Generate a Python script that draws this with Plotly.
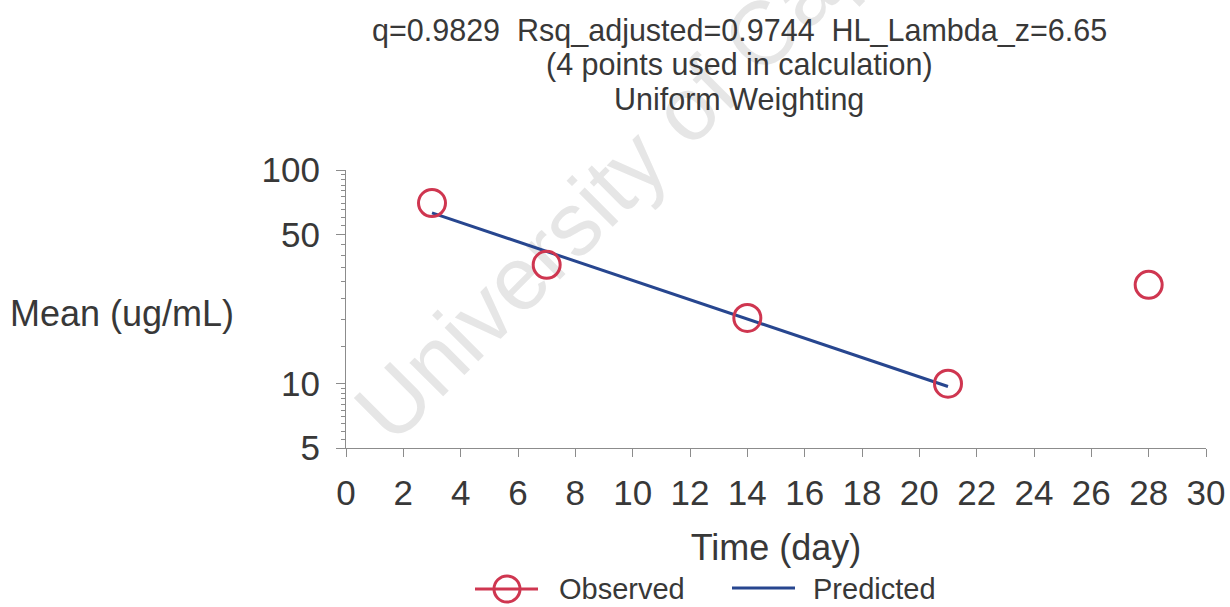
import plotly.graph_objects as go

# Observed mean concentrations
time_obs = [3, 7, 14, 21, 28]
conc_obs = [70.0, 36.0, 20.3, 10.0, 29.0]

# Terminal-phase regression (points used in the fit)
time_pred = [3, 7, 14, 21]
conc_pred = [63.0, 41.6, 20.1, 9.7]

x_ticks = list(range(0, 31, 2))
y_ticks = [5, 10, 50, 100]
y_tick_text = ["5", "10", "50", "100"]
y_minor = [5.5, 6, 6.5, 7, 7.5, 8, 8.5, 9, 9.5,
           15, 20, 25, 30, 35, 40, 45,
           55, 60, 65, 70, 75, 80, 85, 90, 95]

title_lines = [
    "q=0.9829  Rsq_adjusted=0.9744  HL_Lambda_z=6.65",
    "(4 points used in calculation)",
    "Uniform Weighting",
]

RED = "#cf3650"
BLUE = "#27468f"
AXIS = "#8c8c8c"
TEXT = "#383838"
FONT = "Liberation Sans, Arial, sans-serif"

fig = go.Figure()

fig.add_trace(go.Scatter(
    x=time_pred, y=conc_pred, mode="lines", name="Predicted",
    line=dict(color=BLUE, width=3), showlegend=False,
))
fig.add_trace(go.Scatter(
    x=time_obs, y=conc_obs, mode="markers", name="Observed", showlegend=False,
    marker=dict(symbol="circle-open", size=27, color=RED, line=dict(width=3, color=RED)),
))

L, R, T, B = 346, 24, 170, 159
W, H = 1230, 607
PW, PH = W - L - R, H - T - B


def px(xp):
    return (xp - L) / PW


def py(yp):
    return (H - B - yp) / PH


annotations = []
for text, ypix in zip(title_lines, [30, 65, 99]):
    annotations.append(dict(
        text=text, xref="paper", yref="paper", x=px(739), y=py(ypix),
        xanchor="center", yanchor="middle", showarrow=False,
        font=dict(size=30.5, color=TEXT, family=FONT),
    ))
annotations.append(dict(
    text="Mean (ug/mL)", xref="paper", yref="paper", x=px(8), y=py(313),
    xanchor="left", yanchor="middle", showarrow=False,
    font=dict(size=36, color=TEXT, family=FONT),
))

# watermark, kept beneath the data
shapes = [dict(
    type="rect", xref="paper", yref="paper", layer="below",
    x0=px(657), x1=px(757), y0=py(26), y1=py(126),
    line=dict(width=0), fillcolor="rgba(0,0,0,0)",
    label=dict(text="University of Cape Town", textangle=-45,
               font=dict(size=90, color="#e6e6e6", family=FONT)),
)]

# legend keys drawn below the axis title
LEG_Y = 589
R_CIRC = 13
shapes += [
    dict(type="line", xref="paper", yref="paper",
         x0=px(475), x1=px(538), y0=py(LEG_Y), y1=py(LEG_Y),
         line=dict(color=RED, width=3)),
    dict(type="circle", xref="paper", yref="paper",
         x0=px(507 - R_CIRC), x1=px(507 + R_CIRC),
         y0=py(LEG_Y + R_CIRC), y1=py(LEG_Y - R_CIRC),
         line=dict(color=RED, width=3), fillcolor="rgba(0,0,0,0)"),
    dict(type="line", xref="paper", yref="paper",
         x0=px(732), x1=px(795), y0=py(LEG_Y - 1), y1=py(LEG_Y - 1),
         line=dict(color=BLUE, width=3)),
]
for label, xpix in [("Observed", 558), ("Predicted", 812)]:
    annotations.append(dict(
        text=label, xref="paper", yref="paper", x=px(xpix), y=py(LEG_Y),
        xanchor="left", yanchor="middle", showarrow=False, borderpad=0,
        font=dict(size=29, color=TEXT, family=FONT),
    ))

fig.update_layout(
    width=W, height=H, autosize=False,
    margin=dict(l=L, r=R, t=T, b=B, pad=0),
    paper_bgcolor="white", plot_bgcolor="white",
    font=dict(family=FONT, color=TEXT),
    showlegend=False,
    annotations=annotations,
    shapes=shapes,
    xaxis=dict(
        range=[0, 30], tickmode="array", tickvals=x_ticks,
        ticks="outside", ticklen=8, tickwidth=1, tickcolor=AXIS,
        showline=True, linecolor=AXIS, linewidth=1,
        showgrid=False, zeroline=False, automargin=False,
        tickfont=dict(size=35, color=TEXT, family=FONT),
        ticklabelstandoff=6,
        title=dict(text="Time (day)", standoff=23,
                   font=dict(size=36, color=TEXT, family=FONT)),
    ),
    yaxis=dict(
        type="log", range=[0.69897, 2.0],
        tickmode="array", tickvals=y_ticks, ticktext=y_tick_text,
        ticks="outside", ticklen=9, tickwidth=1, tickcolor=AXIS,
        minor=dict(tickmode="array", tickvals=y_minor, ticks="outside",
                   ticklen=4, tickcolor=AXIS, showgrid=False),
        showline=True, linecolor=AXIS, linewidth=1,
        showgrid=False, zeroline=False, automargin=False,
        tickfont=dict(size=35, color=TEXT, family=FONT),
        ticklabelstandoff=9,
    ),
    # companion axes carry the inner half of each tick so the marks cross the axis lines
    xaxis2=dict(
        overlaying="x", anchor="y2", range=[0, 30], tickmode="array", tickvals=x_ticks,
        ticks="inside", ticklen=10, tickwidth=1, tickcolor=AXIS,
        showticklabels=False, showline=False, showgrid=False, zeroline=False,
        automargin=False,
    ),
    yaxis2=dict(
        overlaying="y", anchor="x2", side="left", type="log", range=[0.69897, 2.0],
        tickmode="array", tickvals=y_ticks,
        ticks="inside", ticklen=10, tickwidth=1, tickcolor=AXIS,
        minor=dict(tickmode="array", tickvals=y_minor, ticks="inside",
                   ticklen=4, tickcolor=AXIS, showgrid=False),
        showticklabels=False, showline=False, showgrid=False, zeroline=False,
        automargin=False,
    ),
)

fig.write_html("out.html")
